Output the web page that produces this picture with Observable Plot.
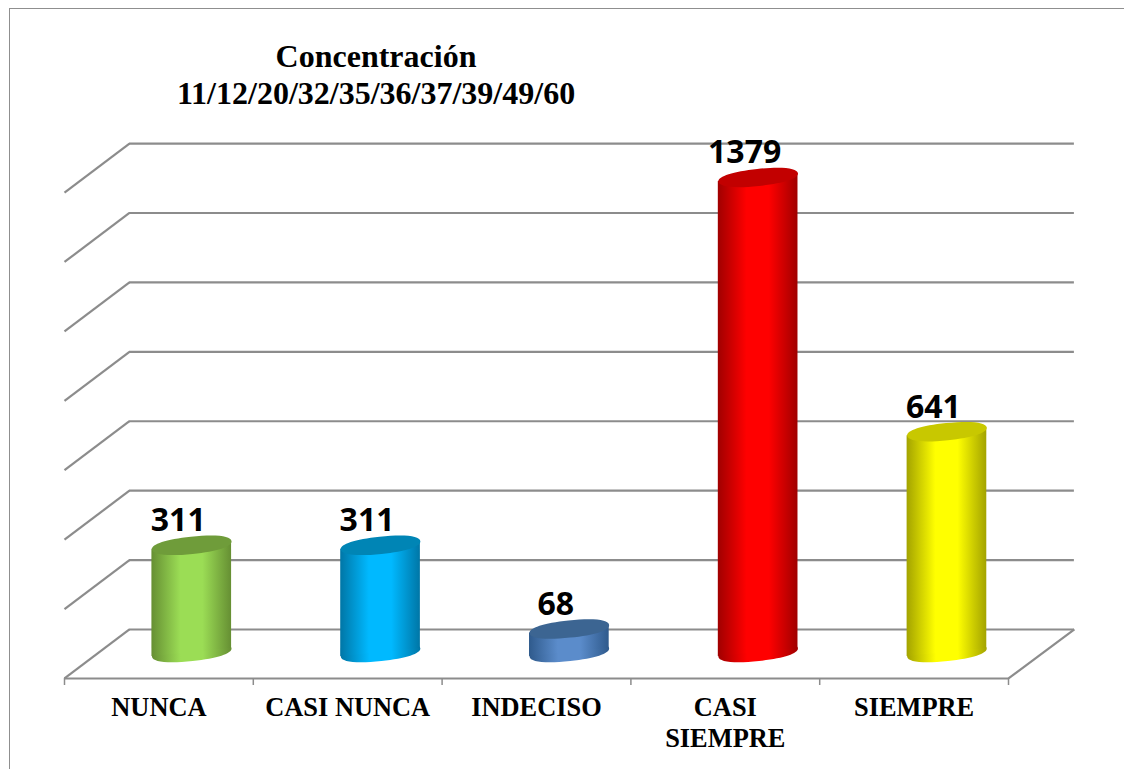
<!DOCTYPE html>
<html lang="es">
<head>
<meta charset="utf-8">
<script src="https://cdn.jsdelivr.net/npm/d3@7"></script>
<script src="https://cdn.jsdelivr.net/npm/@observablehq/plot@0.6"></script>
<style>
  html, body { margin: 0; padding: 0; background: #fff; }
  #page { position: relative; width: 1124px; height: 769px; overflow: hidden; }
  #frame { position: absolute; left: 9px; top: 8px; width: 1200px; height: 900px;
           border-left: 1.5px solid #8f8f8f; border-top: 1.5px solid #8f8f8f; }
  #title { position: absolute; left: 0; top: 38px; width: 752px; text-align: center;
           font: bold 32px/36.5px "Liberation Serif", serif; color: #000; }
  #chart { position: absolute; left: 0; top: 120px; }
  svg { display: block; }
</style>
</head>
<body>
<div id="page">
  <div id="frame"></div>
  <div id="title"><div>Concentración</div><div>11/12/20/32/35/36/37/39/49/60</div></div>
  <div id="chart"></div>
</div>
<script>
const categories = ["NUNCA", "CASI NUNCA", "INDECISO", "CASI\nSIEMPRE", "SIEMPRE"];
const values = [311, 311, 68, 1379, 641];
const centerColors = ["#9BDD55", "#00B9FF", "#5B8CCB", "#FF0000", "#FFFF00"];
const edgeColors = ["#668F33", "#0076A6", "#2F5A8C", "#A00000", "#A3A300"];
const topColors = ["#6F9C3A", "#0085B5", "#3C6592", "#C20000", "#C8C800"];
const gridLevels = [66.8, 268.3, 469.8, 671.3, 872.8, 1074.3, 1275.8, 1477.3];
const floorFront = -75.5;
const depthValue = 142.2;
const depthX = 0.344;
const barShift = 0.674;
const barHalf = 0.211;
const tilt = 11.6;

const bars = categories.map((name, i) => ({ name, i, value: values[i] }));

const ellipse = (rx, ry, deg) => ({
  draw(ctx) {
    const a = deg * Math.PI / 180, c = Math.cos(a), s = Math.sin(a), k = 0.62;
    const p = (x, y) => [x * c - y * s, x * s + y * c];
    ctx.moveTo(...p(rx, 0));
    ctx.bezierCurveTo(...p(rx, k * ry), ...p(k * rx, ry), ...p(0, ry));
    ctx.bezierCurveTo(...p(-k * rx, ry), ...p(-rx, k * ry), ...p(-rx, 0));
    ctx.bezierCurveTo(...p(-rx, -k * ry), ...p(-k * rx, -ry), ...p(0, -ry));
    ctx.bezierCurveTo(...p(k * rx, -ry), ...p(rx, -k * ry), ...p(rx, 0));
    ctx.closePath();
  }
});
const cap = ellipse(40, 8.6, -6);

const defs = () => {
  const d = d3.create("svg:defs");
  bars.forEach(b => {
    const g = d.append("linearGradient").attr("id", "cyl" + b.i)
      .attr("x1", 0).attr("x2", 1).attr("y1", 0).attr("y2", 0);
    [[0, edgeColors[b.i]], [0.36, centerColors[b.i]], [0.64, centerColors[b.i]], [1, edgeColors[b.i]]]
      .forEach(([o, c]) => g.append("stop").attr("offset", o).attr("stop-color", c));
  });
  return d.node();
};

const gridStyle = { stroke: "#8c8c8c", strokeWidth: 2.2 };

const cylinderMarks = bars.flatMap(b => {
  const cx = b.i + barShift;
  const body = [
    { x: cx - barHalf, y1: -tilt, y2: b.value - tilt },
    { x: cx + barHalf, y1: tilt, y2: b.value + tilt }
  ];
  return [
    Plot.dot([b], { x: () => cx, y: () => 0, r: 40, symbol: cap, fill: `url(#cyl${b.i})`, stroke: "none" }),
    Plot.areaY(body, { x: "x", y1: "y1", y2: "y2", fill: `url(#cyl${b.i})` }),
    Plot.dot([b], { x: () => cx, y: "value", r: 40, symbol: cap, fill: topColors[b.i], stroke: "none" })
  ];
});

const plot = Plot.plot({
  width: 1124,
  height: 649,
  marginLeft: 64,
  marginRight: 116,
  marginTop: 19,
  marginBottom: 91,
  x: { domain: [0, 5] },
  y: { domain: [floorFront, 1489.1], axis: null },
  marks: [
    defs,
    Plot.ruleY(gridLevels, { y: d => d, x1: depthX, x2: 5 + depthX + 0.005, ...gridStyle }),
    Plot.link(gridLevels, { x1: () => 0, x2: () => depthX, y1: d => d - depthValue, y2: d => d, ...gridStyle }),
    Plot.link([gridLevels[0]], { x1: () => 5, x2: () => 5 + depthX + 0.005, y1: d => d - depthValue, y2: d => d, ...gridStyle }),
    Plot.ruleY([floorFront], { x1: 0, x2: 5, ...gridStyle }),
    Plot.axisX({
      ticks: d3.range(0, 6), tickSize: 7, tickFormat: () => "", stroke: "#8c8c8c", strokeWidth: 1.5, label: null
    }),
    Plot.axisX({
      ticks: categories.map((_, i) => i + 0.5), tickSize: 0, tickPadding: 16, label: null,
      tickFormat: d => categories[Math.floor(d)],
      fontSize: 26.4, fontWeight: "bold", fontFamily: "Liberation Serif", fill: "#000", lineHeight: 1.17
    }),
    ...cylinderMarks,
    Plot.text(bars, {
      x: d => d.i + barShift, y: "value", text: d => String(d.value), dx: -13.5, dy: -14,
      lineAnchor: "bottom", fontSize: 32, fontWeight: "bold", fontFamily: "Open Sans", fill: "#000"
    })
  ]
});
document.getElementById("chart").appendChild(plot);
</script>
</body>
</html>
